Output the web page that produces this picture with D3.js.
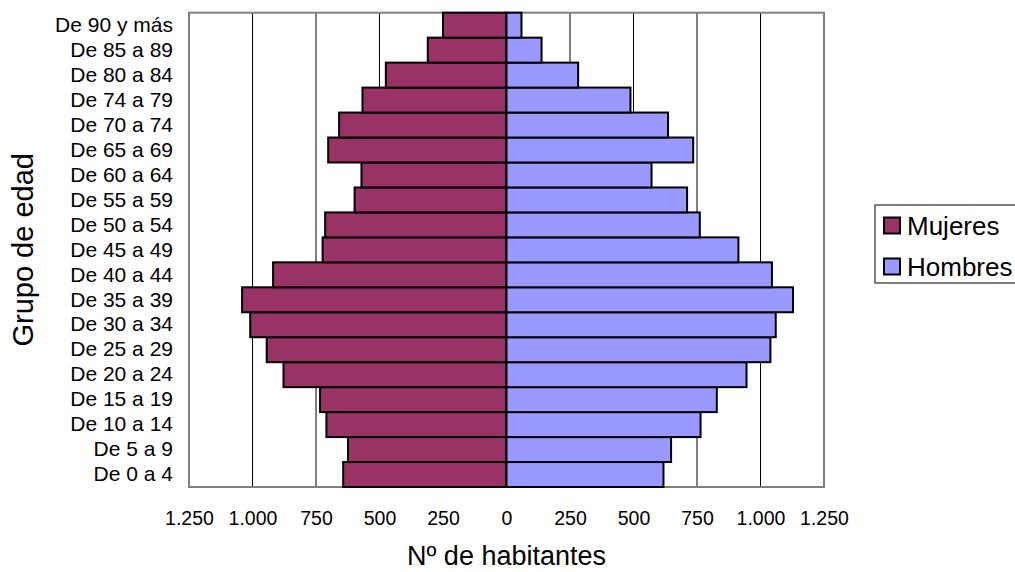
<!DOCTYPE html>
<html>
<head>
<meta charset="utf-8">
<script src="https://cdn.jsdelivr.net/npm/d3@7"></script>
<style>
  body { margin: 0; background: #fff; }
  svg { font-family: "Liberation Sans", Arial, sans-serif; }
</style>
</head>
<body>
<div id="chart"></div>
<script>
// grupos de edad, de abajo arriba
const grupos = ["De 0 a 4", "De 5 a 9", "De 10 a 14", "De 15 a 19", "De 20 a 24",
  "De 25 a 29", "De 30 a 34", "De 35 a 39", "De 40 a 44", "De 45 a 49",
  "De 50 a 54", "De 55 a 59", "De 60 a 64", "De 65 a 69", "De 70 a 74",
  "De 74 a 79", "De 80 a 84", "De 85 a 89", "De 90 y más"];
const mujeres = [643, 624, 709, 734, 878, 944, 1009, 1041, 919, 724,
  714, 598, 571, 702, 659, 567, 475, 310, 250];
const hombres = [618, 648, 764, 828, 945, 1039, 1060, 1128, 1045, 913,
  761, 711, 571, 735, 636, 488, 282, 138, 59];
const ticks = [-1250, -1000, -750, -500, -250, 0, 250, 500, 750, 1000, 1250];
const series = ["Mujeres", "Hombres"];
const colores = ["#993366", "#9999ff"];

const W = 1015, H = 572;
const plot = {left: 189, right: 824, top: 12.7, bottom: 487};

const svg = d3.select("#chart").append("svg")
    .attr("width", W)
    .attr("height", H);

const x = d3.scaleLinear().domain([-1250, 1250]).range([plot.left, plot.right]);
const y = d3.scaleBand().domain(grupos.slice().reverse())
    .range([plot.top, plot.bottom]).padding(0);

const es = d3.formatLocale({decimal: ",", thousands: ".", grouping: [3], currency: ["", " €"]});
const fmt = es.format(",d");

// gridlines
svg.append("g")
  .selectAll("line")
  .data(ticks.filter(t => t !== 0 && Math.abs(t) !== 1250))
  .enter().append("line")
    .attr("x1", d => x(d)).attr("x2", d => x(d))
    .attr("y1", plot.top).attr("y2", plot.bottom)
    .attr("stroke", "#000")
    .attr("stroke-width", 1);

// plot border
svg.append("rect")
    .attr("x", plot.left).attr("y", plot.top)
    .attr("width", plot.right - plot.left)
    .attr("height", plot.bottom - plot.top)
    .attr("fill", "none")
    .attr("stroke", "#808080")
    .attr("stroke-width", 2);

const rows = grupos.map((g, i) => ({g, m: mujeres[i], h: hombres[i]}));

svg.append("g").selectAll("rect")
  .data(rows)
  .enter().append("rect")
    .attr("x", d => x(-d.m))
    .attr("y", d => y(d.g))
    .attr("width", d => x(0) - x(-d.m))
    .attr("height", y.bandwidth())
    .attr("fill", colores[0])
    .attr("stroke", "#000")
    .attr("stroke-width", 2);

svg.append("g").selectAll("rect")
  .data(rows)
  .enter().append("rect")
    .attr("x", x(0))
    .attr("y", d => y(d.g))
    .attr("width", d => x(d.h) - x(0))
    .attr("height", y.bandwidth())
    .attr("fill", colores[1])
    .attr("stroke", "#000")
    .attr("stroke-width", 2);

// axes
const xAxis = svg.append("g")
    .attr("transform", `translate(0,${plot.bottom})`)
    .call(d3.axisBottom(x).tickValues(ticks).tickSize(0).tickPadding(24)
      .tickFormat(d => fmt(Math.abs(d))));
xAxis.select(".domain").remove();
xAxis.selectAll("text").attr("font-size", 19.5).attr("fill", "#000")
    .attr("font-family", "Liberation Sans, Arial, sans-serif");

const yAxis = svg.append("g")
    .attr("transform", `translate(${plot.left},0)`)
    .call(d3.axisLeft(y).tickSize(0).tickPadding(16));
yAxis.select(".domain").remove();
yAxis.selectAll("text").attr("font-size", 21).attr("fill", "#000")
    .attr("font-family", "Liberation Sans, Arial, sans-serif");

// titles
svg.append("text")
    .attr("x", x(0)).attr("y", 565)
    .attr("text-anchor", "middle")
    .attr("font-size", 27)
    .text("Nº de habitantes");

svg.append("text")
    .attr("transform", `translate(33,${(plot.top + plot.bottom) / 2}) rotate(-90)`)
    .attr("text-anchor", "middle")
    .attr("font-size", 29)
    .text("Grupo de edad");

// legend
const leg = svg.append("g").attr("transform", "translate(875,205)");
leg.append("rect")
    .attr("width", 160).attr("height", 78)
    .attr("fill", "#fff")
    .attr("stroke", "#000")
    .attr("stroke-width", 1);
series.forEach((s, i) => {
  const row = leg.append("g").attr("transform", `translate(0,${20 + i * 41})`);
  row.append("rect")
      .attr("x", 9).attr("y", -7.5)
      .attr("width", 16).attr("height", 16)
      .attr("fill", colores[i])
      .attr("stroke", "#000")
      .attr("stroke-width", 2);
  row.append("text")
      .attr("x", 32).attr("y", 9.5)
      .attr("font-size", 26)
      .text(s);
});
</script>
</body>
</html>
